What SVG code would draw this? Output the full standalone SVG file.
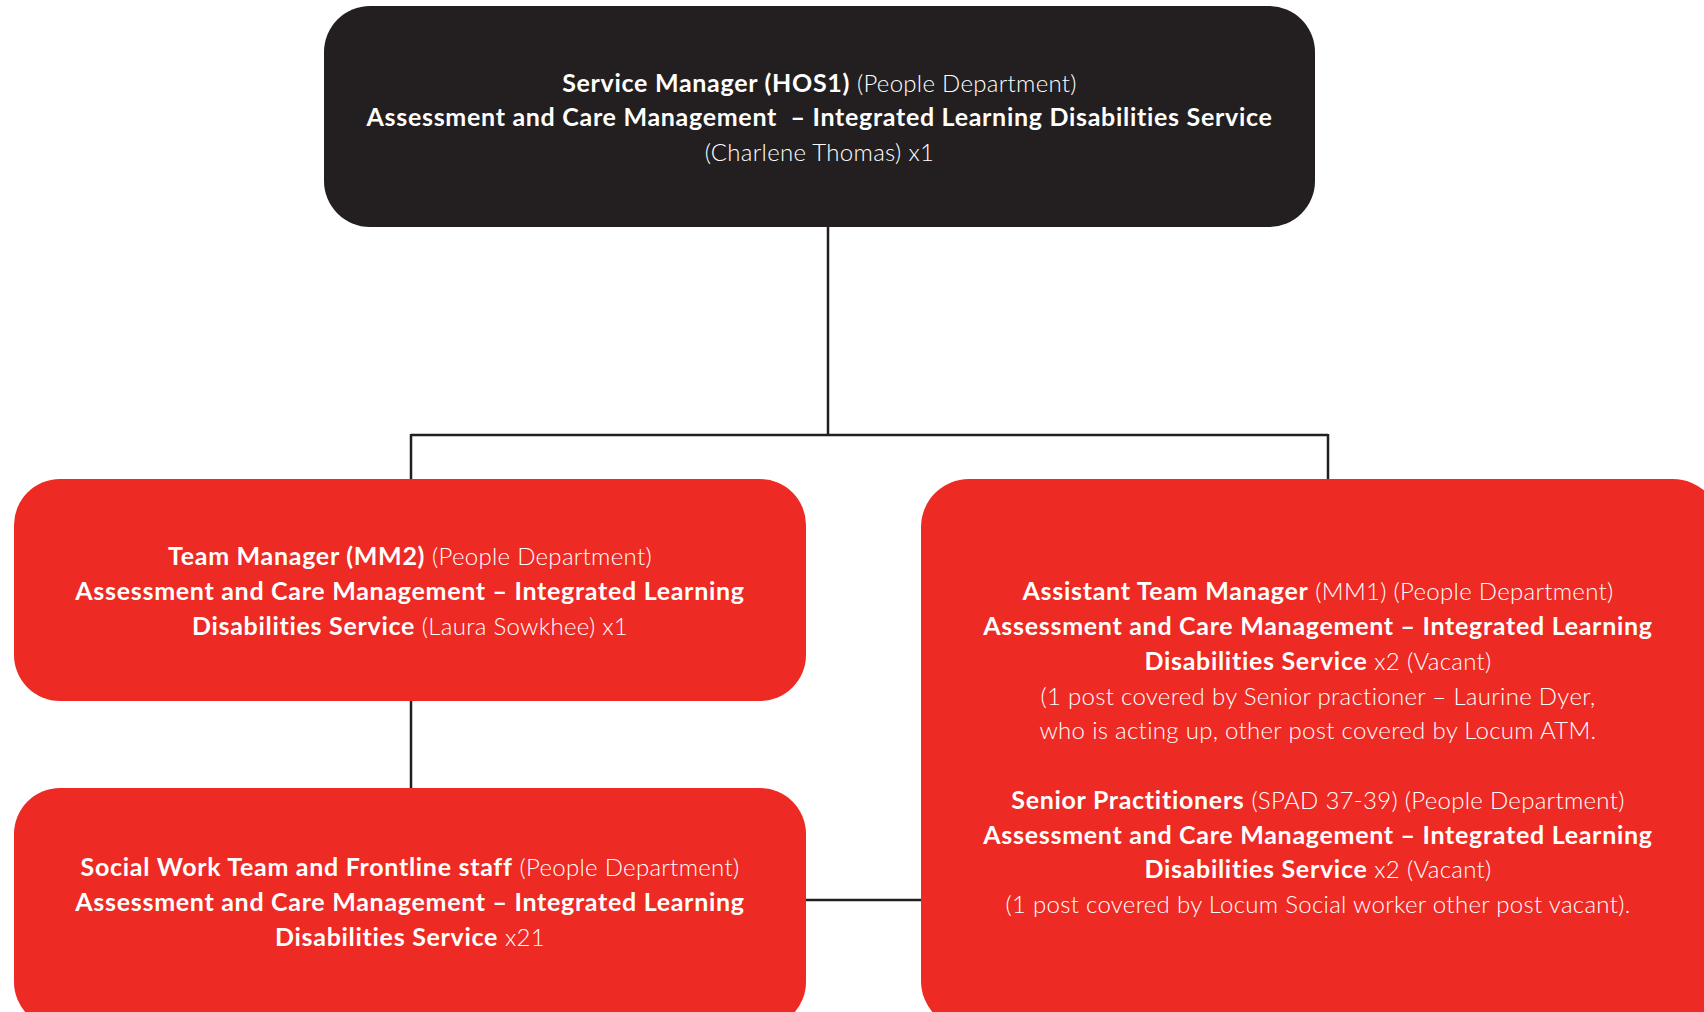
<svg xmlns="http://www.w3.org/2000/svg" width="1704" height="1012" viewBox="0 0 1704 1012">
<style>
.t{font-family:Lato,"Open Sans","Liberation Sans",sans-serif;font-size:24px;letter-spacing:0.3px;fill:#fff;text-anchor:middle;font-weight:300}
.b{font-weight:700;font-size:25px;letter-spacing:0.7px}
.dark{fill:#231F20}
.red{fill:#EE2A24}
.conn{stroke:#231F20;stroke-width:2.5;fill:none}
</style>
<rect width="1704" height="1012" fill="#fff"/>
<g id="connectors">
<path class="conn" d="M828 227 V435 M411 435 H1328 M411 434 V479 M1328 434 V479 M411 701 V788 M806 900 H921"/>
</g>
<g id="node-service-manager">
<rect class="dark" x="324" y="6" width="991" height="221" rx="46"/>
<text class="t" x="819.5" y="92" xml:space="preserve"><tspan class="b">Service Manager (HOS1)</tspan> (People Department)</text>
<text class="t" x="819.5" y="126" xml:space="preserve"><tspan class="b">Assessment and Care Management  – Integrated Learning Disabilities Service</tspan></text>
<text class="t" x="819.5" y="161">(Charlene Thomas) x1</text>
</g>
<g id="node-team-manager">
<rect class="red" x="14" y="479" width="792" height="222" rx="46"/>
<text class="t" x="410" y="565"><tspan class="b">Team Manager (MM2)</tspan> (People Department)</text>
<text class="t" x="410" y="600"><tspan class="b">Assessment and Care Management – Integrated Learning</tspan></text>
<text class="t" x="410" y="635"><tspan class="b">Disabilities Service</tspan> (Laura Sowkhee) x1</text>
</g>
<g id="node-social-work">
<rect class="red" x="14" y="788" width="792" height="240" rx="46"/>
<text class="t" x="410" y="876"><tspan class="b">Social Work Team and Frontline staff</tspan> (People Department)</text>
<text class="t" x="410" y="911"><tspan class="b">Assessment and Care Management – Integrated Learning</tspan></text>
<text class="t" x="410" y="946"><tspan class="b">Disabilities Service</tspan> x21</text>
</g>
<g id="node-assistant-team-manager">
<rect class="red" x="921" y="479" width="800" height="550" rx="48"/>
<text class="t" x="1318" y="600"><tspan class="b">Assistant Team Manager</tspan> (MM1) (People Department)</text>
<text class="t" x="1318" y="635"><tspan class="b">Assessment and Care Management – Integrated Learning</tspan></text>
<text class="t" x="1318" y="670"><tspan class="b">Disabilities Service</tspan> x2 (Vacant)</text>
<text class="t" x="1318" y="705">(1 post covered by Senior practioner – Laurine Dyer,</text>
<text class="t" x="1318" y="739">who is acting up, other post covered by Locum ATM.</text>
<text class="t" x="1318" y="809"><tspan class="b">Senior Practitioners</tspan> (SPAD 37-39) (People Department)</text>
<text class="t" x="1318" y="844"><tspan class="b">Assessment and Care Management – Integrated Learning</tspan></text>
<text class="t" x="1318" y="878"><tspan class="b">Disabilities Service</tspan> x2 (Vacant)</text>
<text class="t" x="1318" y="913">(1 post covered by Locum Social worker other post vacant).</text>
</g>
</svg>
